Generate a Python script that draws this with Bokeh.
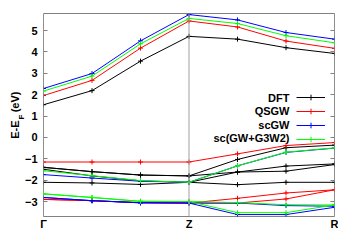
import math
from bokeh.plotting import figure
from bokeh.models import (FixedTicker, Span, Label, Legend, LegendItem, LinearAxis,
                          CustomJSTickFormatter, Range1d)
from bokeh.embed import file_html
from bokeh.resources import INLINE

# k-path sample points and high-symmetry ticks
kpts = [0, 1, 2, 3, 4, 5, 6]
tick_pos = [0, 3, 6]
tick_labels = ["Γ", "Z", "R"]
y_ticks = [-3, -2, -1, 0, 1, 2, 3, 4, 5]

# y-axis title pieces: "E-E" + subscript "F" + "(eV)" (anchor values on the energy axis)
y_title_main = ["E-E", "(eV)"]
y_title_main_pos = [0.795, 2.148]
y_title_sub = ["F"]
y_title_sub_pos = [1.068]

# DFT bands (eV)
dft_bands = [
    [1.53, 2.19, 3.57, 4.73, 4.60, 4.20, 3.93],
    [-1.40, -1.60, -1.76, -1.80, -1.03, -0.48, -0.36],
    [-1.40, -1.60, -1.76, -1.80, -1.62, -1.34, -1.24],
    [-1.49, -1.80, -2.03, -2.10, -1.62, -1.58, -1.27],
    [-2.10, -2.13, -2.20, -2.10, -2.21, -2.10, -2.10],
]
# QSGW bands
qsgw_bands = [
    [1.96, 2.67, 4.18, 5.45, 5.17, 4.51, 4.17],
    [-1.15, -1.15, -1.15, -1.15, -0.77, -0.38, -0.24],
    [-2.90, -2.96, -3.05, -3.07, -2.85, -2.60, -2.45],
    [-2.90, -2.96, -3.05, -3.07, -3.07, -2.88, -2.45],
]
# scGW bands
scgw_bands = [
    [2.29, 2.99, 4.52, 5.75, 5.50, 4.91, 4.60],
    [-1.74, -1.90, -2.05, -2.10, -1.33, -0.70, -0.50],
    [-2.81, -2.96, -3.06, -3.07, -3.07, -3.19, -3.22],
    [-2.81, -2.96, -3.06, -3.07, -3.61, -3.61, -3.27],
]
# sc(GW+G3W2) bands
scg3_bands = [
    [2.17, 2.87, 4.38, 5.57, 5.33, 4.76, 4.43],
    [-1.56, -1.79, -2.02, -2.10, -1.33, -0.69, -0.49],
    [-2.64, -2.81, -2.99, -3.00, -3.05, -3.15, -3.16],
    [-2.64, -2.81, -2.99, -3.00, -3.52, -3.52, -3.16],
]

series_names = ["DFT", "QSGW", "scGW", "sc(GW+G3W2)"]
series_colors = ["#000000", "#ff0000", "#0000ff", "#00ff00"]
series_bands = [dft_bands, qsgw_bands, scgw_bands, scg3_bands]

FONT = "Liberation Sans"

p = figure(width=338, height=232, output_backend="svg", toolbar_location=None,
           x_range=Range1d(0, 6), y_range=Range1d(-3.7, 5.8),
           min_border_left=40, min_border_right=4, min_border_top=13, min_border_bottom=14)
p.xgrid.visible = False
p.ygrid.visible = False
p.outline_line_color = "#808080"
p.outline_line_width = 1
p.background_fill_color = "white"
p.border_fill_color = "white"

# x axis
p.xaxis.ticker = FixedTicker(ticks=tick_pos)
p.xaxis.major_label_overrides = dict(zip(tick_pos, tick_labels))
p.xaxis.axis_line_color = None
p.xaxis.major_tick_in = 0
p.xaxis.major_tick_out = 0
p.xaxis.minor_tick_line_color = None
p.xaxis.major_label_standoff = 1
p.xaxis.major_label_text_font = FONT
p.xaxis.major_label_text_font_style = "bold"
p.xaxis.major_label_text_font_size = "11px"
p.xaxis.major_label_text_color = "black"

# y axis
p.yaxis.ticker = FixedTicker(ticks=y_ticks)
p.yaxis.axis_line_color = None
p.yaxis.major_tick_in = 4
p.yaxis.major_tick_out = 0
p.yaxis.major_tick_line_color = "#808080"
p.yaxis.minor_tick_line_color = None
p.yaxis.major_label_standoff = 6
p.yaxis.major_label_text_font = FONT
p.yaxis.major_label_text_font_style = "bold"
p.yaxis.major_label_text_font_size = "11px"
p.yaxis.major_label_text_color = "black"

# y-axis title built from two extra, line-less axes (subscript column, then main column)
sub_axis = LinearAxis(ticker=FixedTicker(ticks=y_title_sub_pos),
                      major_label_overrides=dict(zip(y_title_sub_pos, y_title_sub)),
                      axis_line_color=None, major_tick_line_color=None,
                      minor_tick_line_color=None, major_tick_in=0, major_tick_out=0,
                      major_label_standoff=0, major_label_orientation=math.pi / 2,
                      major_label_text_font=FONT, major_label_text_font_style="bold",
                      major_label_text_font_size="8px", major_label_text_color="black")
p.add_layout(sub_axis, "left")
main_axis = LinearAxis(ticker=FixedTicker(ticks=y_title_main_pos),
                       major_label_overrides=dict(zip(y_title_main_pos, y_title_main)),
                       axis_line_color=None, major_tick_line_color=None,
                       minor_tick_line_color=None, major_tick_in=0, major_tick_out=0,
                       major_label_standoff=-6, major_label_orientation=math.pi / 2,
                       major_label_text_font=FONT, major_label_text_font_style="bold",
                       major_label_text_font_size="11px", major_label_text_color="black")
p.add_layout(main_axis, "left")

right_axis = LinearAxis(ticker=FixedTicker(ticks=y_ticks),
                        formatter=CustomJSTickFormatter(code="return ''"),
                        axis_line_color=None, major_tick_in=4, major_tick_out=0,
                        major_tick_line_color="#808080", minor_tick_line_color=None,
                        major_label_standoff=0, major_label_text_font_size="1px")
p.add_layout(right_axis, "right")

# high-symmetry vertical lines
for t in tick_pos:
    p.add_layout(Span(location=t, dimension="height", line_color="#a0a0a0", line_width=1))

legend_items = []
for name, color, bands in zip(series_names, series_colors, series_bands):
    first = None
    for band in bands:
        lr = p.line(kpts, band, line_color=color, line_width=1)
        sr = p.scatter(kpts, band, marker="cross", size=5, line_color=color, line_width=1)
        if first is None:
            first = [lr, sr]
    legend_items.append(LegendItem(label=" ", renderers=first))

legend = Legend(items=legend_items, location=(253, 70), orientation="vertical",
                glyph_width=29, glyph_height=14, label_width=0, label_height=14,
                label_standoff=0, spacing=0, padding=0, margin=0,
                label_text_font_size="1px",
                background_fill_alpha=0, border_line_alpha=0)
p.add_layout(legend)

# legend texts (right aligned, left of the samples)
legend_text_y = [119, 105.4, 91.8, 78.2]
for name, ty in zip(series_names, legend_text_y):
    p.add_layout(Label(x=246, y=ty, x_units="screen", y_units="screen", text=name,
                       text_align="right", text_baseline="middle",
                       text_font=FONT, text_font_style="bold", text_font_size="11px",
                       text_color="black"))

open("out.html", "w").write(file_html(p, INLINE))
